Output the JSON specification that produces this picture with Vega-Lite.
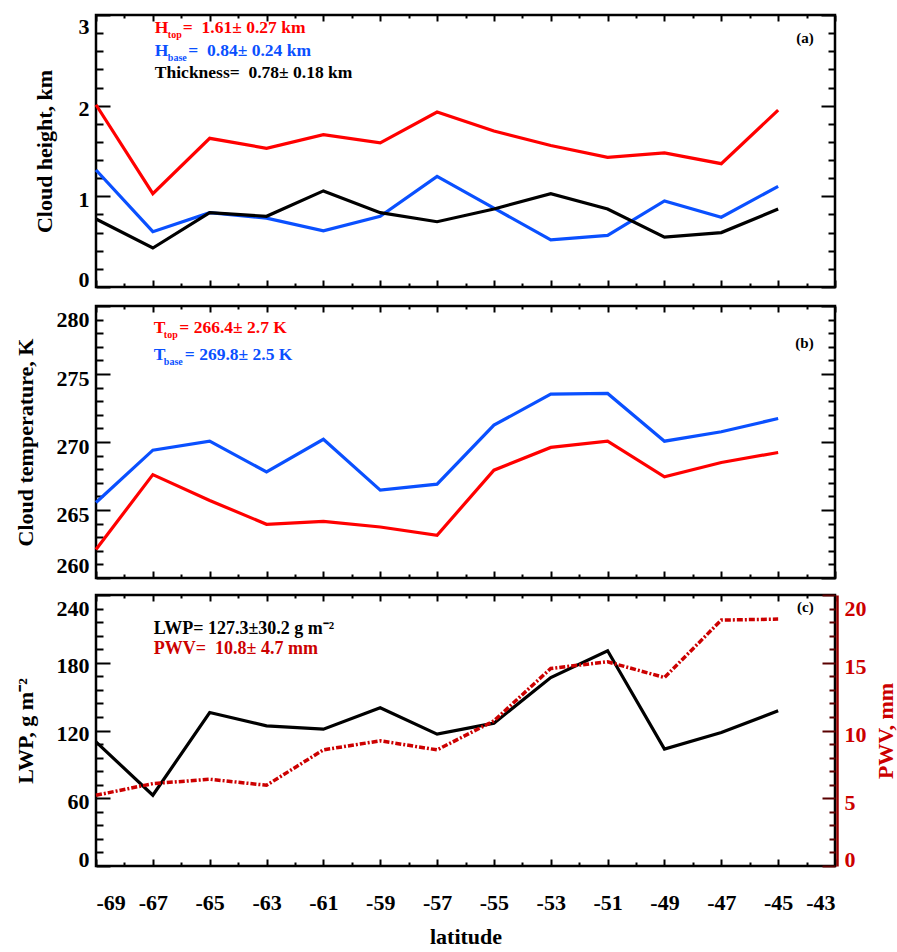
{
  "$schema": "https://vega.github.io/schema/vega-lite/v6.json",
  "padding": {"left": 12, "top": 12, "right": 0, "bottom": 0},
  "spacing": 11,
  "config": {
    "font": "Liberation Serif",
    "view": {"stroke": "black", "strokeWidth": 2.5},
    "axis": {
      "grid": false, "domain": false,
      "labelFont": "Liberation Serif", "labelFontWeight": "bold", "labelFontSize": 22, "labelColor": "black",
      "titleFont": "Liberation Serif", "titleFontWeight": "bold", "titleFontSize": 22, "titleColor": "black",
      "tickColor": "black", "tickWidth": 2, "domainColor": "black", "domainWidth": 2.5,
      "labelOverlap": false, "labelBound": false
    }
  },
  "datasets": {
    "a": [
      {"lat": -69, "htop": 2.01, "hbase": 1.29, "thick": 0.75},
      {"lat": -67, "htop": 1.03, "hbase": 0.61, "thick": 0.43},
      {"lat": -65, "htop": 1.64, "hbase": 0.82, "thick": 0.82},
      {"lat": -63, "htop": 1.53, "hbase": 0.76, "thick": 0.78},
      {"lat": -61, "htop": 1.68, "hbase": 0.62, "thick": 1.06},
      {"lat": -59, "htop": 1.59, "hbase": 0.78, "thick": 0.82},
      {"lat": -57, "htop": 1.93, "hbase": 1.22, "thick": 0.72},
      {"lat": -55, "htop": 1.72, "hbase": 0.87, "thick": 0.86},
      {"lat": -53, "htop": 1.56, "hbase": 0.52, "thick": 1.03},
      {"lat": -51, "htop": 1.43, "hbase": 0.57, "thick": 0.86},
      {"lat": -49, "htop": 1.48, "hbase": 0.95, "thick": 0.55},
      {"lat": -47, "htop": 1.36, "hbase": 0.77, "thick": 0.60},
      {"lat": -45, "htop": 1.95, "hbase": 1.11, "thick": 0.86}
    ],
    "b": [
      {"lat": -69, "ttop": 262.1, "tbase": 265.55},
      {"lat": -67, "ttop": 267.6, "tbase": 269.4},
      {"lat": -65, "ttop": 265.7, "tbase": 270.06},
      {"lat": -63, "ttop": 263.95, "tbase": 267.8},
      {"lat": -61, "ttop": 264.17, "tbase": 270.2},
      {"lat": -59, "ttop": 263.75, "tbase": 266.46},
      {"lat": -57, "ttop": 263.14, "tbase": 266.9},
      {"lat": -55, "ttop": 267.93, "tbase": 271.24},
      {"lat": -53, "ttop": 269.6, "tbase": 273.52},
      {"lat": -51, "ttop": 270.06, "tbase": 273.57},
      {"lat": -49, "ttop": 267.44, "tbase": 270.06},
      {"lat": -47, "ttop": 268.49, "tbase": 270.75},
      {"lat": -45, "ttop": 269.23, "tbase": 271.73}
    ],
    "c": [
      {"lat": -69, "lwp": 109.9, "pwv": 5.22},
      {"lat": -67, "lwp": 62.7, "pwv": 6.08},
      {"lat": -65, "lwp": 135.9, "pwv": 6.4},
      {"lat": -63, "lwp": 124.1, "pwv": 5.96},
      {"lat": -61, "lwp": 121.2, "pwv": 8.57},
      {"lat": -59, "lwp": 140.1, "pwv": 9.24},
      {"lat": -57, "lwp": 116.8, "pwv": 8.57},
      {"lat": -55, "lwp": 126.5, "pwv": 10.71},
      {"lat": -53, "lwp": 166.9, "pwv": 14.58},
      {"lat": -51, "lwp": 190.6, "pwv": 15.07},
      {"lat": -49, "lwp": 103.5, "pwv": 13.91},
      {"lat": -47, "lwp": 118.2, "pwv": 18.15},
      {"lat": -45, "lwp": 137.4, "pwv": 18.22}
    ]
  },
  "vconcat": [
    {
      "width": 739, "height": 272,
      "data": {"name": "a"},
      "layer": [
        {
          "mark": {"type": "line", "color": "#ff0000", "strokeWidth": 3.2},
          "encoding": {
            "x": {"field": "lat", "type": "quantitative", "scale": {"domain": [-69, -43], "nice": false, "zero": false},
              "axis": {"orient": "bottom", "values": [-69,-67,-65,-63,-61,-59,-57,-55,-53,-51,-49,-47,-45,-43], "labels": false, "title": null, "tickSize": 7, "offset": -7}},
            "y": {"field": "htop", "type": "quantitative", "scale": {"domain": [0, 3], "nice": false, "zero": false},
              "axis": {"orient": "left", "values": [0, 1, 2, 3], "tickSize": 14, "offset": -14, "labelPadding": 7,
                "labelOffset": {"condition": [{"test": "datum.value > 2.99", "value": 11}, {"test": "datum.value < 0.01", "value": -8}], "value": 3},
                "title": "Cloud height, km", "titlePadding": 22}}
          }
        },
        {
          "mark": {"type": "line", "color": "#0a50ff", "strokeWidth": 3.2},
          "encoding": {
            "x": {"field": "lat", "type": "quantitative", "scale": {"domain": [-69, -43], "nice": false, "zero": false},
              "axis": {"orient": "top", "values": [-69,-67,-65,-63,-61,-59,-57,-55,-53,-51,-49,-47,-45,-43], "labels": false, "title": null, "tickSize": 6, "offset": -6}},
            "y": {"field": "hbase", "type": "quantitative", "scale": {"domain": [0, 3], "nice": false, "zero": false},
              "axis": {"orient": "right", "values": [0, 1, 2, 3], "labels": false, "title": null, "tickSize": 14, "offset": -14}}
          }
        },
        {
          "mark": {"type": "line", "color": "black", "strokeWidth": 3.2},
          "encoding": {
            "x": {"field": "lat", "type": "quantitative", "scale": {"domain": [-69, -43], "nice": false, "zero": false},
              "axis": {"orient": "bottom", "values": [-68,-66,-64,-62,-60,-58,-56,-54,-52,-50,-48,-46,-44], "labels": false, "title": null, "tickSize": 4, "offset": -4}},
            "y": {"field": "thick", "type": "quantitative", "scale": {"domain": [0, 3], "nice": false, "zero": false},
              "axis": {"orient": "left", "values": [0.2,0.4,0.6,0.8,1.2,1.4,1.6,1.8,2.2,2.4,2.6,2.8], "labels": false, "title": null, "tickSize": 7, "offset": -7}}
          }
        },
        {
          "mark": {"type": "line", "strokeOpacity": 0},
          "encoding": {
            "x": {"field": "lat", "type": "quantitative", "scale": {"domain": [-69, -43], "nice": false, "zero": false},
              "axis": {"orient": "top", "values": [-68,-66,-64,-62,-60,-58,-56,-54,-52,-50,-48,-46,-44], "labels": false, "title": null, "tickSize": 3, "offset": -3}},
            "y": {"field": "thick", "type": "quantitative", "scale": {"domain": [0, 3], "nice": false, "zero": false},
              "axis": {"orient": "right", "values": [0.2,0.4,0.6,0.8,1.2,1.4,1.6,1.8,2.2,2.4,2.6,2.8], "labels": false, "title": null, "tickSize": 7, "offset": -7}}
          }
        },
        {
          "data": {"values": [{}]},
          "mark": {"type": "text", "text": "H", "fontWeight": "bold", "fontSize": 17.5, "color": "#ff0000", "align": "left", "baseline": "middle", "dx": 2},
          "encoding": {"x": {"datum": -67, "type": "quantitative", "axis": null}, "y": {"datum": 2.852, "type": "quantitative", "axis": null}}
        },
        {
          "data": {"values": [{}]},
          "mark": {"type": "text", "text": "top", "fontWeight": "bold", "fontSize": 10, "color": "#ff0000", "align": "left", "baseline": "middle", "dx": 15, "dy": 7},
          "encoding": {"x": {"datum": -67, "type": "quantitative", "axis": null}, "y": {"datum": 2.852, "type": "quantitative", "axis": null}}
        },
        {
          "data": {"values": [{}]},
          "mark": {"type": "text", "text": "=\u00a0 1.61± 0.27 km", "fontWeight": "bold", "fontSize": 17.5, "color": "#ff0000", "align": "left", "baseline": "middle", "dx": 30},
          "encoding": {"x": {"datum": -67, "type": "quantitative", "axis": null}, "y": {"datum": 2.852, "type": "quantitative", "axis": null}}
        },
        {
          "data": {"values": [{}]},
          "mark": {"type": "text", "text": "H", "fontWeight": "bold", "fontSize": 17.5, "color": "#0a50ff", "align": "left", "baseline": "middle", "dx": 2},
          "encoding": {"x": {"datum": -67, "type": "quantitative", "axis": null}, "y": {"datum": 2.603, "type": "quantitative", "axis": null}}
        },
        {
          "data": {"values": [{}]},
          "mark": {"type": "text", "text": "base", "fontWeight": "bold", "fontSize": 10, "color": "#0a50ff", "align": "left", "baseline": "middle", "dx": 15, "dy": 7},
          "encoding": {"x": {"datum": -67, "type": "quantitative", "axis": null}, "y": {"datum": 2.603, "type": "quantitative", "axis": null}}
        },
        {
          "data": {"values": [{}]},
          "mark": {"type": "text", "text": "=\u00a0 0.84± 0.24 km", "fontWeight": "bold", "fontSize": 17.5, "color": "#0a50ff", "align": "left", "baseline": "middle", "dx": 35.5},
          "encoding": {"x": {"datum": -67, "type": "quantitative", "axis": null}, "y": {"datum": 2.603, "type": "quantitative", "axis": null}}
        },
        {
          "data": {"values": [{}]},
          "mark": {"type": "text", "text": "Thickness=\u00a0 0.78± 0.18 km", "fontWeight": "bold", "fontSize": 17.5, "color": "black", "align": "left", "baseline": "middle", "dx": 2},
          "encoding": {"x": {"datum": -67, "type": "quantitative", "axis": null}, "y": {"datum": 2.363, "type": "quantitative", "axis": null}}
        },
        {
          "data": {"values": [{}]},
          "mark": {"type": "text", "text": "(a)", "fontWeight": "bold", "fontSize": 15, "color": "black", "align": "right", "baseline": "middle"},
          "encoding": {"x": {"datum": -43.75, "type": "quantitative", "axis": null}, "y": {"datum": 2.75, "type": "quantitative", "axis": null}}
        }
      ],
      "resolve": {"axis": {"x": "independent", "y": "independent"}}
    },
    {
      "width": 739, "height": 272,
      "data": {"name": "b"},
      "layer": [
        {
          "mark": {"type": "line", "color": "#ff0000", "strokeWidth": 3.2},
          "encoding": {
            "x": {"field": "lat", "type": "quantitative", "scale": {"domain": [-69, -43], "nice": false, "zero": false},
              "axis": {"orient": "bottom", "values": [-69,-67,-65,-63,-61,-59,-57,-55,-53,-51,-49,-47,-45,-43], "labels": false, "title": null, "tickSize": 7, "offset": -7}},
            "y": {"field": "ttop", "type": "quantitative", "scale": {"domain": [260, 280], "nice": false, "zero": false},
              "axis": {"orient": "left", "values": [260, 265, 270, 275, 280], "tickSize": 14, "offset": -14, "labelPadding": 7,
                "labelOffset": {"condition": [{"test": "datum.value > 279.9", "value": 13}, {"test": "datum.value < 260.1", "value": -13}], "value": 4},
                "title": "Cloud temperature, K", "titlePadding": 19}}
          }
        },
        {
          "mark": {"type": "line", "color": "#0a50ff", "strokeWidth": 3.2},
          "encoding": {
            "x": {"field": "lat", "type": "quantitative", "scale": {"domain": [-69, -43], "nice": false, "zero": false},
              "axis": {"orient": "top", "values": [-69,-67,-65,-63,-61,-59,-57,-55,-53,-51,-49,-47,-45,-43], "labels": false, "title": null, "tickSize": 6, "offset": -6}},
            "y": {"field": "tbase", "type": "quantitative", "scale": {"domain": [260, 280], "nice": false, "zero": false},
              "axis": {"orient": "right", "values": [260, 265, 270, 275, 280], "labels": false, "title": null, "tickSize": 14, "offset": -14}}
          }
        },
        {
          "mark": {"type": "line", "strokeOpacity": 0},
          "encoding": {
            "x": {"field": "lat", "type": "quantitative", "scale": {"domain": [-69, -43], "nice": false, "zero": false},
              "axis": {"orient": "bottom", "values": [-68,-66,-64,-62,-60,-58,-56,-54,-52,-50,-48,-46,-44], "labels": false, "title": null, "tickSize": 4, "offset": -4}},
            "y": {"field": "tbase", "type": "quantitative", "scale": {"domain": [260, 280], "nice": false, "zero": false},
              "axis": {"orient": "left", "values": [261,262,263,264,266,267,268,269,271,272,273,274,276,277,278,279], "labels": false, "title": null, "tickSize": 7, "offset": -7}}
          }
        },
        {
          "mark": {"type": "line", "strokeOpacity": 0},
          "encoding": {
            "x": {"field": "lat", "type": "quantitative", "scale": {"domain": [-69, -43], "nice": false, "zero": false},
              "axis": {"orient": "top", "values": [-68,-66,-64,-62,-60,-58,-56,-54,-52,-50,-48,-46,-44], "labels": false, "title": null, "tickSize": 3, "offset": -3}},
            "y": {"field": "tbase", "type": "quantitative", "scale": {"domain": [260, 280], "nice": false, "zero": false},
              "axis": {"orient": "right", "values": [261,262,263,264,266,267,268,269,271,272,273,274,276,277,278,279], "labels": false, "title": null, "tickSize": 7, "offset": -7}}
          }
        },
        {
          "data": {"values": [{}]},
          "mark": {"type": "text", "text": "T", "fontWeight": "bold", "fontSize": 17.5, "color": "#ff0000", "align": "left", "baseline": "middle", "dx": 1},
          "encoding": {"x": {"datum": -67, "type": "quantitative", "axis": null}, "y": {"datum": 278.36, "type": "quantitative", "axis": null}}
        },
        {
          "data": {"values": [{}]},
          "mark": {"type": "text", "text": "top", "fontWeight": "bold", "fontSize": 10, "color": "#ff0000", "align": "left", "baseline": "middle", "dx": 11, "dy": 7},
          "encoding": {"x": {"datum": -67, "type": "quantitative", "axis": null}, "y": {"datum": 278.36, "type": "quantitative", "axis": null}}
        },
        {
          "data": {"values": [{}]},
          "mark": {"type": "text", "text": "= 266.4± 2.7 K", "fontWeight": "bold", "fontSize": 17.5, "color": "#ff0000", "align": "left", "baseline": "middle", "dx": 26.5},
          "encoding": {"x": {"datum": -67, "type": "quantitative", "axis": null}, "y": {"datum": 278.36, "type": "quantitative", "axis": null}}
        },
        {
          "data": {"values": [{}]},
          "mark": {"type": "text", "text": "T", "fontWeight": "bold", "fontSize": 17.5, "color": "#0a50ff", "align": "left", "baseline": "middle", "dx": 1},
          "encoding": {"x": {"datum": -67, "type": "quantitative", "axis": null}, "y": {"datum": 276.39, "type": "quantitative", "axis": null}}
        },
        {
          "data": {"values": [{}]},
          "mark": {"type": "text", "text": "base", "fontWeight": "bold", "fontSize": 10, "color": "#0a50ff", "align": "left", "baseline": "middle", "dx": 11, "dy": 7},
          "encoding": {"x": {"datum": -67, "type": "quantitative", "axis": null}, "y": {"datum": 276.39, "type": "quantitative", "axis": null}}
        },
        {
          "data": {"values": [{}]},
          "mark": {"type": "text", "text": "= 269.8± 2.5 K", "fontWeight": "bold", "fontSize": 17.5, "color": "#0a50ff", "align": "left", "baseline": "middle", "dx": 32},
          "encoding": {"x": {"datum": -67, "type": "quantitative", "axis": null}, "y": {"datum": 276.39, "type": "quantitative", "axis": null}}
        },
        {
          "data": {"values": [{}]},
          "mark": {"type": "text", "text": "(b)", "fontWeight": "bold", "fontSize": 15, "color": "black", "align": "right", "baseline": "middle"},
          "encoding": {"x": {"datum": -43.75, "type": "quantitative", "axis": null}, "y": {"datum": 277.3, "type": "quantitative", "axis": null}}
        }
      ],
      "resolve": {"axis": {"x": "independent", "y": "independent"}}
    },
    {
      "width": 739, "height": 271,
      "data": {"name": "c"},
      "layer": [
        {
          "layer": [
            {
              "mark": {"type": "line", "color": "black", "strokeWidth": 3.2},
              "encoding": {
                "x": {"field": "lat", "type": "quantitative", "scale": {"domain": [-69, -43], "nice": false, "zero": false},
                  "axis": {"orient": "bottom", "values": [-69,-67,-65,-63,-61,-59,-57,-55,-53,-51,-49,-47,-45,-43],
                    "labelExpr": "'' + datum.value", "tickSize": 7, "offset": -7, "labelPadding": 26, "title": "latitude", "titlePadding": 13}},
                "y": {"field": "lwp", "type": "quantitative", "scale": {"domain": [0, 240], "nice": false, "zero": false},
                  "axis": {"orient": "left", "values": [0, 60, 120, 180, 240], "tickSize": 14, "offset": -14, "labelPadding": 7,
                    "labelOffset": {"condition": [{"test": "datum.value > 239", "value": 13}, {"test": "datum.value < 1", "value": -7}], "value": 3},
                    "title": "LWP, g m⁻²", "titlePadding": 19}}
              }
            },
            {
              "mark": {"type": "line", "strokeOpacity": 0},
              "encoding": {
                "x": {"field": "lat", "type": "quantitative", "scale": {"domain": [-69, -43], "nice": false, "zero": false},
                  "axis": {"orient": "bottom", "values": [-68,-66,-64,-62,-60,-58,-56,-54,-52,-50,-48,-46,-44], "labels": false, "title": null, "tickSize": 4, "offset": -4}},
                "y": {"field": "lwp", "type": "quantitative", "scale": {"domain": [0, 240], "nice": false, "zero": false},
                  "axis": {"orient": "left", "values": [12,24,36,48,72,84,96,108,132,144,156,168,192,204,216,228], "labels": false, "title": null, "tickSize": 7, "offset": -7}}
              }
            },
            {
              "data": {"values": [{}]},
              "mark": {"type": "text", "text": "LWP= 127.3±30.2 g m⁻²", "fontWeight": "bold", "fontSize": 18, "color": "black", "align": "left", "baseline": "middle", "dx": 1},
              "encoding": {"x": {"datum": -67, "type": "quantitative", "axis": null}, "y": {"datum": 209.8, "type": "quantitative", "axis": null}}
            },
            {
              "data": {"values": [{}]},
              "mark": {"type": "text", "text": "PWV=\u00a0 10.8± 4.7 mm", "fontWeight": "bold", "fontSize": 18, "color": "#cc0000", "align": "left", "baseline": "middle", "dx": 1},
              "encoding": {"x": {"datum": -67, "type": "quantitative", "axis": null}, "y": {"datum": 192.6, "type": "quantitative", "axis": null}}
            },
            {
              "data": {"values": [{}]},
              "mark": {"type": "text", "text": "(c)", "fontWeight": "bold", "fontSize": 15, "color": "black", "align": "right", "baseline": "middle"},
              "encoding": {"x": {"datum": -43.75, "type": "quantitative", "axis": null}, "y": {"datum": 229, "type": "quantitative", "axis": null}}
            }
          ],
          "resolve": {"axis": {"x": "independent", "y": "independent"}}
        },
        {
          "layer": [
            {
              "mark": {"type": "line", "color": "#cc0000", "strokeWidth": 3.5, "strokeDash": [6, 2, 2, 2]},
              "encoding": {
                "x": {"field": "lat", "type": "quantitative", "scale": {"domain": [-69, -43], "nice": false, "zero": false},
                  "axis": {"orient": "top", "values": [-69,-67,-65,-63,-61,-59,-57,-55,-53,-51,-49,-47,-45,-43], "labels": false, "title": null, "tickSize": 6, "offset": -6}},
                "y": {"field": "pwv", "type": "quantitative", "scale": {"domain": [0, 20], "nice": false, "zero": false},
                  "axis": {"orient": "right", "values": [0, 5, 10, 15, 20], "tickSize": 13, "offset": -13, "labelPadding": 9,
                    "labelColor": "#cc0000", "tickColor": "#5a0000",
                    "labelOffset": {"condition": [{"test": "datum.value > 19.9", "value": 13}, {"test": "datum.value < 0.1", "value": -7}], "value": 4},
                    "title": "PWV, mm", "titleColor": "#cc0000", "titleAngle": 270, "titleBaseline": "top", "titlePadding": 9}}
              }
            },
            {
              "mark": {"type": "line", "strokeOpacity": 0},
              "encoding": {
                "x": {"field": "lat", "type": "quantitative", "scale": {"domain": [-69, -43], "nice": false, "zero": false},
                  "axis": {"orient": "top", "values": [-68,-66,-64,-62,-60,-58,-56,-54,-52,-50,-48,-46,-44], "labels": false, "title": null, "tickSize": 3, "offset": -3}},
                "y": {"field": "pwv", "type": "quantitative", "scale": {"domain": [0, 20], "nice": false, "zero": false},
                  "axis": {"orient": "right", "values": [1,2,3,4,6,7,8,9,11,12,13,14,16,17,18,19], "labels": false, "title": null, "tickColor": "#5a0000", "tickSize": 6, "offset": -6}}
              }
            },
            {
              "mark": {"type": "line", "strokeOpacity": 0},
              "encoding": {
                "x": {"field": "lat", "type": "quantitative", "scale": {"domain": [-69, -43], "nice": false, "zero": false}, "axis": null},
                "y": {"field": "pwv", "type": "quantitative", "scale": {"domain": [0, 20], "nice": false, "zero": false},
                  "axis": {"orient": "right", "ticks": false, "labels": false, "title": null, "domain": true, "domainColor": "#990000", "domainWidth": 2.5, "offset": 2}}
              }
            }
          ],
          "resolve": {"axis": {"x": "independent", "y": "independent"}}
        }
      ],
      "resolve": {"scale": {"y": "independent"}, "axis": {"x": "independent", "y": "independent"}}
    }
  ]
}
